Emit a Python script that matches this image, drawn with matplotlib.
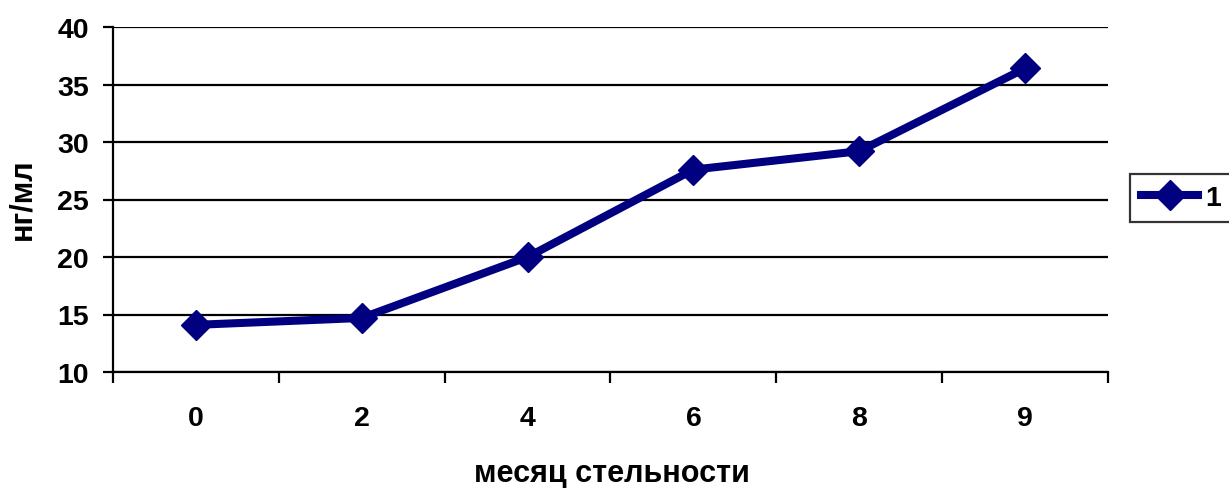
import matplotlib.pyplot as plt
import numpy as np

# data
months = ["0", "2", "4", "6", "8", "9"]
values = [14.1, 14.7, 20.0, 27.6, 29.2, 36.4]
series_name = "1"

plt.rcParams['font.family'] = ['Liberation Sans', 'DejaVu Sans']
plt.rcParams['font.weight'] = 'bold'

fig = plt.figure(figsize=(12.29, 4.89), dpi=100)
ax = fig.add_axes([113 / 1229, 1 - 373 / 489, (1108 - 113) / 1229, (373 - 28) / 489])

x = np.arange(len(months))
ax.plot(x, values, color="#000080", linewidth=5.8, marker="D", markersize=15,
        label=series_name, zorder=3)

ax.set_xlim(-0.5, len(months) - 0.5)
ax.set_ylim(10, 40)
ax.set_yticks(np.arange(10, 41, 5))
ax.yaxis.grid(True, color="black", linewidth=1.6)
ax.set_axisbelow(True)

# category labels in the middle, ticks between categories
ax.set_xticks(np.arange(-0.5, len(months), 1))
ax.set_xticklabels([])
ax.set_xticks(x, minor=True)
ax.set_xticklabels(months, minor=True)
ax.tick_params(axis="x", which="minor", length=0, pad=24, labelsize=20.5)
ax.tick_params(axis="x", which="major", length=8, width=1.6, direction="out")
ax.tick_params(axis="y", length=7.5, width=1.6, direction="out", labelsize=20.5, pad=10)
for lbl in ax.get_xticklabels(minor=True) + ax.get_yticklabels():
    lbl.set_fontweight("bold")

for side in ["top", "right"]:
    ax.spines[side].set_visible(False)
for side in ["left", "bottom"]:
    ax.spines[side].set_linewidth(1.6)

ax.set_xlabel("месяц стельности", fontsize=22, fontweight="bold")
ax.xaxis.set_label_coords(0.501, -0.316)
ax.xaxis.label.set_va("baseline")
ax.set_ylabel("нг/мл", fontsize=22, fontweight="bold")
ax.yaxis.set_label_coords(-0.0915, 0.503)
ax.yaxis.label.set_va("center")

leg = fig.legend(loc="center left", bbox_to_anchor=(1130 / 1229, 1 - 199 / 489),
                 fontsize=20.5, frameon=True, fancybox=False, handlelength=2.0,
                 borderpad=0.4, handletextpad=0.25, borderaxespad=0)
leg.get_frame().set_edgecolor("black")
leg.get_frame().set_linewidth(1.6)
for t in leg.get_texts():
    t.set_fontweight("bold")

fig.savefig("out.png", dpi=100)
